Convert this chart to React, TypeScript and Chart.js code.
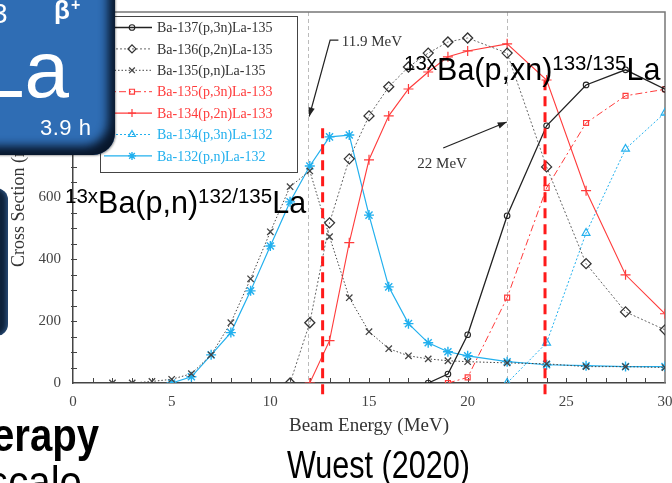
import React, { useEffect, useRef } from 'react';
import { Chart, registerables } from 'chart.js';
import { drawPoint } from 'chart.js/helpers';

Chart.register(...registerables);

// ---------- data (Beam energy in MeV, cross section in mb) ----------
const E_137_3n = [18, 19, 20, 22, 24, 26, 28, 30];
const XS_137_3n = [0, 29, 156, 541, 832, 964, 1013, 950];

const E_136_2n = [11, 12, 13, 14, 15, 16, 17, 18, 19, 20, 22, 24, 26, 28, 30];
const XS_136_2n = [0, 195, 518, 725, 864, 958, 1022, 1067, 1103, 1116, 1067, 699, 386, 230, 172];

const E_135_n = [2, 3, 4, 5, 6, 7, 8, 9, 10, 11, 12, 13, 14, 15, 16, 17, 18, 19, 20, 22, 24, 26, 28, 30];
const XS_135_n = [0, 0, 5, 12, 30, 91, 195, 337, 489, 635, 686, 473, 276, 166, 111, 88, 78, 72, 69, 65, 62, 53, 53, 50];

const E_135_3n = [19, 20, 22, 24, 26, 28, 30];
const XS_135_3n = [0, 18, 276, 631, 841, 929, 950];

const E_134_2n = [12, 13, 14, 15, 16, 17, 18, 19, 20, 22, 24, 26, 28, 30];
const XS_134_2n = [0, 137, 454, 722, 864, 951, 1006, 1055, 1074, 1097, 980, 622, 350, 224];

const E_134_3n = [22, 24, 26, 28, 30];
const XS_134_3n = [0, 130, 485, 757, 874];

const E_132_n = [5, 6, 7, 8, 9, 10, 11, 12, 13, 14, 15, 16, 17, 18, 19, 20, 22, 24, 26, 28, 30];
const XS_132_n = [0, 20, 91, 163, 298, 443, 586, 702, 796, 802, 543, 311, 192, 130, 101, 88, 69, 59, 56, 53, 53];

const seriesLabels = [
  'Ba-137(p,3n)La-135',
  'Ba-136(p,2n)La-135',
  'Ba-135(p,n)La-135',
  'Ba-135(p,3n)La-133',
  'Ba-134(p,2n)La-133',
  'Ba-134(p,3n)La-132',
  'Ba-132(p,n)La-132',
];
const seriesX = [E_137_3n, E_136_2n, E_135_n, E_135_3n, E_134_2n, E_134_3n, E_132_n];
const seriesY = [XS_137_3n, XS_136_2n, XS_135_n, XS_135_3n, XS_134_2n, XS_134_3n, XS_132_n];

const xTicksStep = 5;
const yTicksStep = 200;
const xTitle = 'Beam Energy (MeV)';
const yTitle = 'Cross Section (mb)';

const markerEnergies = [11.9, 22];
const markerLabels = ['11.9 MeV', '22 MeV'];
const windowEnergies = [12.65, 23.92];
const windowTops = [824, 979];

const noteA = [
  { t: '13x', sup: true },
  { t: 'Ba(p,n)', sup: false },
  { t: '132/135', sup: true },
  { t: 'La', sup: false },
];
const noteB = [
  { t: '13x', sup: true },
  { t: 'Ba(p,xn)', sup: false },
  { t: '133/135', sup: true },
  { t: 'La', sup: false },
];
const citation = 'Wuest (2020)';

// ---------- styles ----------
const CYAN = '#22b0ee';
const RED = '#ff3b3b';
const styles = [
  { color: '#222', dash: [], width: 1.3, point: 'circle', radius: 2.8, pw: 1.1, text: '#333' },
  { color: '#666', dash: [2, 2], width: 1, point: 'rectRot', radius: 5, pw: 1.3, text: '#333' },
  { color: '#444', dash: [1.5, 2], width: 1, point: 'crossRot', radius: 4.5, pw: 1.3, text: '#333' },
  { color: RED, dash: [7, 3, 2, 3], width: 1, point: 'rect', radius: 3.5, pw: 1.2, text: RED },
  { color: RED, dash: [], width: 1.1, point: 'cross', radius: 5, pw: 1.2, text: RED },
  { color: CYAN, dash: [2, 2], width: 1, point: 'triangle', radius: 4.5, pw: 1.2, text: CYAN },
  { color: CYAN, dash: [], width: 1.2, point: 'star', radius: 5, pw: 1.4, text: CYAN },
];

const SERIF = '"Liberation Serif", "Times New Roman", serif';
const SANS = '"Liberation Sans", Arial, sans-serif';

function drawRich(ctx: CanvasRenderingContext2D, parts: any[], x: number, base: number, supBase: number) {
  let cx = x;
  ctx.fillStyle = '#000';
  ctx.textBaseline = 'alphabetic';
  ctx.textAlign = 'left';
  for (const p of parts) {
    ctx.font = p.sup ? `20.5px ${SANS}` : `30.5px ${SANS}`;
    ctx.fillText(p.t, cx, p.sup ? supBase : base);
    cx += ctx.measureText(p.t).width;
  }
}

function fitText(ctx: CanvasRenderingContext2D, text: string, font: string, x: number, base: number, width: number) {
  ctx.save();
  ctx.font = font;
  ctx.textBaseline = 'alphabetic';
  ctx.textAlign = 'left';
  const w = ctx.measureText(text).width;
  ctx.translate(x, base);
  ctx.scale(width / w, 1);
  ctx.fillStyle = '#000';
  ctx.fillText(text, 0, 0);
  ctx.restore();
}

function arrow(ctx: CanvasRenderingContext2D, pts: number[][]) {
  ctx.beginPath();
  ctx.moveTo(pts[0][0], pts[0][1]);
  for (let i = 1; i < pts.length; i++) ctx.lineTo(pts[i][0], pts[i][1]);
  ctx.stroke();
  const [x1, y1] = pts[pts.length - 2];
  const [x2, y2] = pts[pts.length - 1];
  const a = Math.atan2(y2 - y1, x2 - x1);
  const L = 9, W = 3.2;
  ctx.beginPath();
  ctx.moveTo(x2, y2);
  ctx.lineTo(x2 - L * Math.cos(a) + W * Math.sin(a), y2 - L * Math.sin(a) - W * Math.cos(a));
  ctx.lineTo(x2 - L * Math.cos(a) - W * Math.sin(a), y2 - L * Math.sin(a) + W * Math.cos(a));
  ctx.closePath();
  ctx.fill();
}

const overlayPlugin = {
  id: 'overlay',
  beforeDatasetsDraw(chart: any) {
    const { ctx, chartArea: ca, scales } = chart;
    const x = scales.x, y = scales.y;
    ctx.save();
    // marker energies (gray dashed)
    ctx.strokeStyle = '#bbb';
    ctx.lineWidth = 1;
    ctx.setLineDash([4, 3]);
    for (const v of markerEnergies) {
      const px = Math.round(x.getPixelForValue(v)) + 0.5;
      ctx.beginPath();
      ctx.moveTo(px, ca.top);
      ctx.lineTo(px, ca.bottom);
      ctx.stroke();
    }
    ctx.setLineDash([]);
    // frame top & right
    ctx.strokeStyle = '#777';
    ctx.lineWidth = 1.5;
    ctx.beginPath();
    ctx.moveTo(ca.left, ca.top);
    ctx.lineTo(ca.right, ca.top);
    ctx.lineTo(ca.right, ca.bottom);
    ctx.stroke();
    // inward ticks
    ctx.strokeStyle = '#444';
    ctx.lineWidth = 1;
    for (let e = 1; e < 30; e++) {
      const px = Math.round(x.getPixelForValue(e)) + 0.5;
      ctx.beginPath();
      ctx.moveTo(px, ca.bottom);
      ctx.lineTo(px, ca.bottom - 5);
      ctx.stroke();
    }
    for (let v = 50; v < 1200; v += 50) {
      const py = Math.round(y.getPixelForValue(v)) + 0.5;
      ctx.beginPath();
      ctx.moveTo(ca.left - 2, py);
      ctx.lineTo(ca.left + 4, py);
      ctx.stroke();
    }
    ctx.restore();
  },
  afterDatasetsDraw(chart: any) {
    const { ctx, scales } = chart;
    const x = scales.x, y = scales.y;
    ctx.save();
    // arrows + labels
    ctx.strokeStyle = '#222';
    ctx.fillStyle = '#222';
    ctx.lineWidth = 1.2;
    arrow(ctx, [
      [x.getPixelForValue(13.45), y.getPixelForValue(1109)],
      [x.getPixelForValue(13.03), y.getPixelForValue(1109)],
      [x.getPixelForValue(11.97), y.getPixelForValue(862)],
    ]);
    arrow(ctx, [
      [x.getPixelForValue(18.76), y.getPixelForValue(760)],
      [x.getPixelForValue(21.98), y.getPixelForValue(844)],
    ]);
    ctx.fillStyle = '#333';
    ctx.font = `15px ${SERIF}`;
    ctx.textBaseline = 'alphabetic';
    ctx.fillText(markerLabels[0], x.getPixelForValue(13.62), y.getPixelForValue(1089));
    ctx.fillText(markerLabels[1], x.getPixelForValue(17.45), y.getPixelForValue(694));

    // legend box
    const lx = 100, ly = 16, lw = 197, lh = 156;
    ctx.fillStyle = '#fff';
    ctx.fillRect(lx, ly, lw, lh);
    ctx.strokeStyle = '#444';
    ctx.lineWidth = 1;
    ctx.strokeRect(lx + 0.5, ly + 0.5, lw, lh);
    chart.data.datasets.forEach((ds: any, i: number) => {
      const st = styles[i];
      const cy = 27.5 + i * 21.4;
      ctx.strokeStyle = st.color;
      ctx.lineWidth = st.width;
      ctx.setLineDash(st.dash);
      ctx.beginPath();
      ctx.moveTo(lx + 4, cy);
      ctx.lineTo(152, cy);
      ctx.stroke();
      ctx.setLineDash([]);
      ctx.strokeStyle = i === 1 ? '#333' : st.color;
      ctx.fillStyle = 'rgba(0,0,0,0)';
      ctx.lineWidth = st.pw;
      drawPoint(ctx, { pointStyle: st.point, rotation: 0, radius: Math.min(st.radius, 4), borderWidth: st.pw } as any, 132, cy);
      ctx.fillStyle = st.text;
      ctx.font = `14px ${SERIF}`;
      ctx.textBaseline = 'middle';
      ctx.fillText(ds.label, 157, cy + 1);
    });
    ctx.restore();
  },
  afterDraw(chart: any) {
    const { ctx, scales } = chart;
    const x = scales.x, y = scales.y;
    ctx.save();
    // red dashed windows
    ctx.strokeStyle = '#ff1a1a';
    ctx.lineWidth = 3;
    ctx.setLineDash([10, 6]);
    windowEnergies.forEach((e, i) => {
      const px = x.getPixelForValue(e);
      ctx.beginPath();
      ctx.moveTo(px, y.getPixelForValue(windowTops[i]));
      ctx.lineTo(px, y.getPixelForValue(-45));
      ctx.stroke();
    });
    ctx.setLineDash([]);
    // reaction notes
    drawRich(ctx, noteA, 65, 213, 203);
    drawRich(ctx, noteB, 404, 80, 70);
    // slide texts
    fitText(ctx, 'erapy', `bold 46px ${SANS}`, -8, 451, 107);
    fitText(ctx, 'scale', `44px ${SANS}`, -12, 497, 94);
    fitText(ctx, citation, `39px ${SANS}`, 287, 478, 183);
    ctx.restore();
  },
};

export default function App() {
  const ref = useRef<HTMLCanvasElement | null>(null);
  useEffect(() => {
    const canvas = ref.current;
    if (!canvas) return;
    const datasets = seriesLabels.map((label, i) => {
      const st = styles[i];
      return {
        label,
        data: seriesX[i].map((e, j) => ({ x: e, y: seriesY[i][j] })),
        borderColor: st.color,
        borderWidth: st.width,
        borderDash: st.dash,
        pointStyle: st.point,
        pointRadius: st.radius,
        pointBorderWidth: st.pw,
        pointBorderColor: i === 1 ? '#333' : st.color,
        pointBackgroundColor: 'rgba(0,0,0,0)',
        fill: false,
        tension: 0,
      };
    });
    const chart = new Chart(canvas, {
      type: 'line',
      data: { datasets },
      options: {
        responsive: false,
        animation: false,
        devicePixelRatio: 1,
        layout: { padding: { left: 0, right: 7, top: 12, bottom: 0 } },
        plugins: { legend: { display: false }, tooltip: { enabled: false } },
        scales: {
          x: {
            type: 'linear',
            min: 0,
            max: 30,
            ticks: {
              stepSize: xTicksStep,
              padding: 10,
              color: '#444',
              maxRotation: 0,
              autoSkip: false,
              font: { family: SERIF, size: 15 },
            },
            grid: { display: false, drawTicks: false },
            border: { display: true, color: '#444', width: 1.5 },
            title: {
              display: true,
              text: xTitle,
              color: '#333',
              font: { family: SERIF, size: 19 },
              padding: { top: 0, bottom: 46 },
            },
            afterFit: (s: any) => {
              s.height = 100;
              s.paddingLeft = 0;
              s.paddingRight = 0;
            },
          },
          y: {
            type: 'linear',
            min: 0,
            max: 1200,
            ticks: {
              stepSize: yTicksStep,
              padding: 12,
              color: '#444',
              font: { family: SERIF, size: 15 },
            },
            grid: { display: false, drawTicks: false },
            border: { display: true, color: '#444', width: 1.5 },
            title: {
              display: true,
              text: yTitle,
              color: '#333',
              font: { family: SERIF, size: 18 },
              padding: { top: 8, bottom: 0 },
            },
            afterFit: (s: any) => {
              s.width = 73;
              s.paddingTop = 0;
              s.paddingBottom = 0;
            },
          },
        },
      } as any,
      plugins: [overlayPlugin as any],
    });
    return () => chart.destroy();
  }, []);

  return (
    <div style={{ position: 'fixed', left: 0, top: 0, width: 672, height: 483, overflow: 'hidden', background: '#fff' }}>
      <canvas ref={ref} width={672} height={483} style={{ position: 'absolute', left: 0, top: 0, display: 'block' }} />
      <div
        style={{
          position: 'absolute', left: -22, top: 188, width: 30, height: 148, borderRadius: 12,
          background: '#0e223b', boxShadow: 'inset -2px 0 4px rgba(70,120,180,0.55)',
        }}
      />
      <div
        style={{
          position: 'absolute', left: -40, top: -40, width: 155, height: 195, borderRadius: 22,
          background: '#2f6db4',
          boxShadow: 'inset -10px -12px 10px -3px rgba(6,18,36,0.95), 1px 1px 2px rgba(0,0,0,0.35)',
        }}
      />
      <svg width={672} height={483} style={{ position: 'absolute', left: 0, top: 0, pointerEvents: 'none' }}>
        <g fill="#fff" fontFamily={SANS}>
          <text x={-8} y={23} fontSize={28}>3</text>
          <text x={54} y={19} fontSize={26} fontWeight="bold">β</text>
          <text x={71} y={10} fontSize={16} fontWeight="bold">+</text>
          <text x={-20} y={97} fontSize={80}>La</text>
          <text x={40} y={135} fontSize={22} letterSpacing={0.5}>3.9 h</text>
        </g>
      </svg>
    </div>
  );
}
